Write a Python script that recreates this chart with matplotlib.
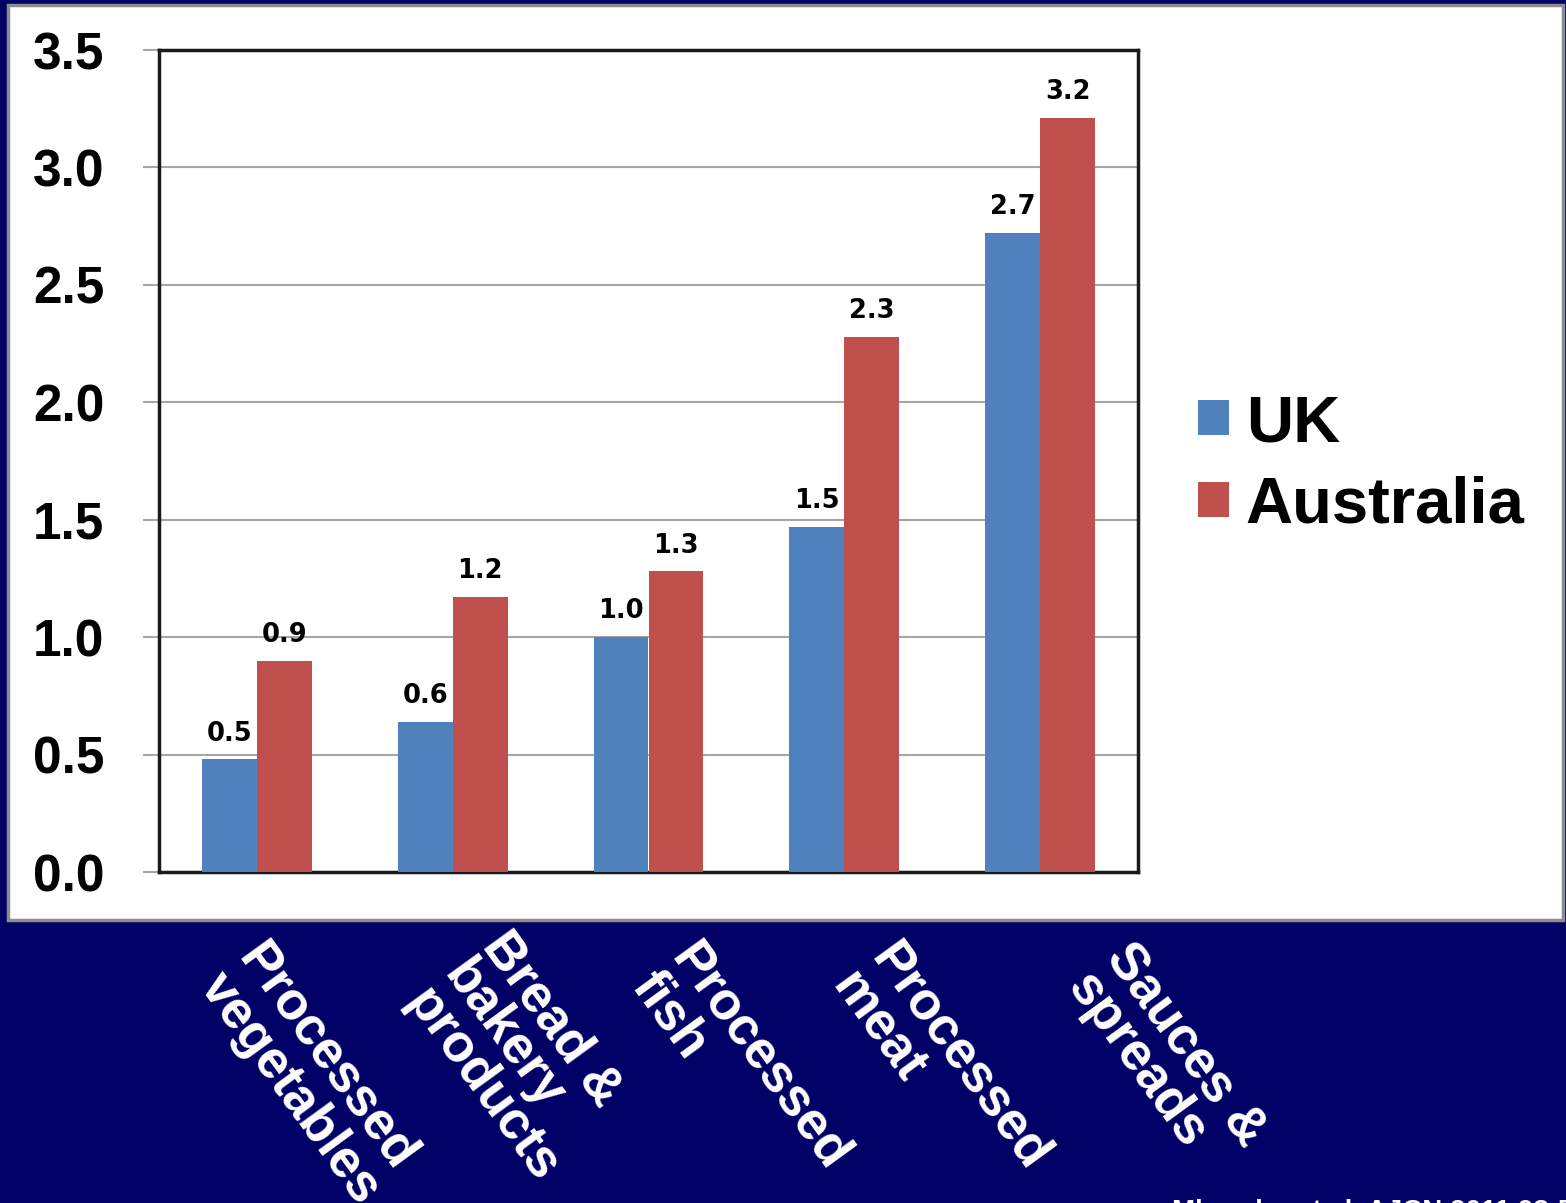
import numpy as np
from matplotlib import pyplot as plt
from matplotlib.patches import Rectangle
from matplotlib.transforms import blended_transform_factory

plt.rcParams['font.family'] = ['Liberation Sans', 'DejaVu Sans']

# sodium content by food group, g salt per 100 g
categories = ['Processed\nvegetables', 'Bread &\nbakery\nproducts', 'Processed\nfish',
              'Processed\nmeat', 'Sauces &\nspreads']
uk = [0.48, 0.64, 1.00, 1.47, 2.72]
australia = [0.90, 1.17, 1.28, 2.28, 3.21]
series_names = ['UK', 'Australia']

# where each rotated category label starts (data x shift, pixel row from top)
label_dx = [0.06, 0.31, 0.27, 0.29, 0.49]
label_row = [935, 923, 935, 935, 935]

W, H = 1566, 1203
navy = '#000066'
blue = '#4F81BD'
red = '#C0504D'

fig = plt.figure(figsize=(W / 100, H / 100), dpi=100, facecolor=navy)

# white chart panel, behind the axes
fig.patches.append(Rectangle((8 / W, 1 - 920 / H), (1563 - 8) / W, (920 - 5) / H,
                             transform=fig.transFigure, facecolor='white',
                             edgecolor='#8c8c8c', lw=2.5, zorder=-5))

ax = fig.add_axes([159 / W, 1 - 872 / H, 979 / W, 822 / H])
ax.set_facecolor('white')

x = np.arange(len(categories))
w = 0.28
b1 = ax.bar(x - w / 2, uk, w, color=blue, label=series_names[0], zorder=3)
b2 = ax.bar(x + w / 2, australia, w, color=red, label=series_names[1], zorder=3)

for bars, vals in ((b1, uk), (b2, australia)):
    for rect, v in zip(bars, vals):
        ax.annotate(f'{v:.1f}', (rect.get_x() + rect.get_width() / 2, v),
                    xytext=(0, 13.5), textcoords='offset points',
                    ha='center', va='baseline', fontsize=18.5, fontweight='bold',
                    family='DejaVu Sans', color='black', zorder=4)

ax.set_xlim(-0.5, 4.5)
ax.set_ylim(0, 3.5)
ax.set_yticks(np.arange(0, 3.51, 0.5))
ax.set_yticklabels([f'{t:.1f}' for t in np.arange(0, 3.51, 0.5)],
                   fontsize=37, fontweight='bold')
ax.set_xticks([])
ax.tick_params(axis='y', length=11.5, width=1.5, color='#a6a6a6', pad=28)
ax.yaxis.grid(True, color='#a6a6a6', lw=1.5)
ax.set_axisbelow(True)
for s in ax.spines.values():
    s.set_color('#1a1a1a')
    s.set_linewidth(2.5)

# category names below the panel
trans = blended_transform_factory(ax.transData, fig.transFigure)
for i, name in enumerate(categories):
    ax.text(i + label_dx[i], 1 - label_row[i] / H, name, transform=trans,
            rotation=-54, rotation_mode='anchor', ha='left', va='top',
            multialignment='left', linespacing=0.95,
            fontsize=38, fontweight='bold', color='white', clip_on=False)

fig.legend(handles=[b1, b2], loc='upper left', bbox_to_anchor=(1198 / W, 1 - 394 / H),
           frameon=False, prop={'family': 'Liberation Sans', 'weight': 'bold', 'size': 47},
           handlelength=0.48, handleheight=0.44, handletextpad=0.25,
           labelspacing=0.33, borderpad=0, borderaxespad=0)

fig.text(1172 / W, 1 - 1219 / H, 'Mhurchu et al. AJCN 2011 93:594', color='white',
         fontsize=20, fontweight='bold', va='baseline')

fig.savefig('out.png', dpi=100, facecolor=navy)
